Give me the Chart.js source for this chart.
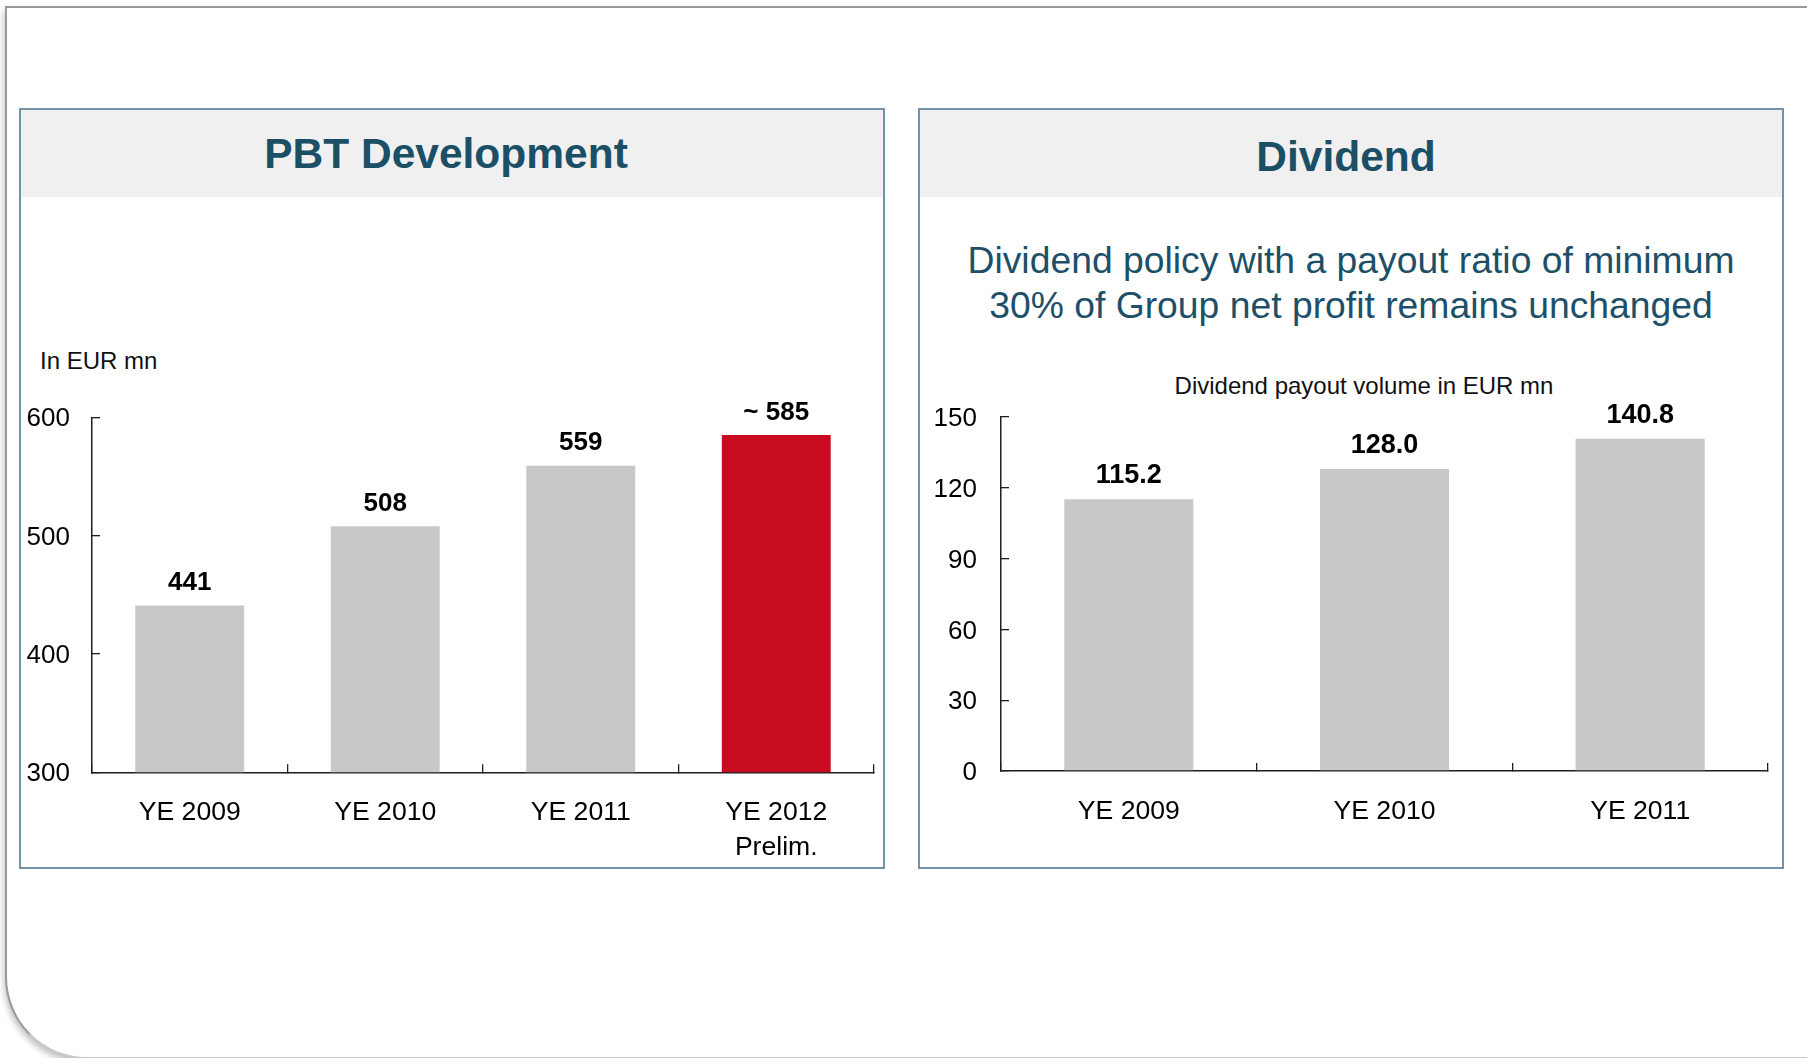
<!DOCTYPE html>
<html>
<head>
<meta charset="utf-8">
<script src="https://cdn.jsdelivr.net/npm/chart.js@4.4.1/dist/chart.umd.min.js"></script>
<style>
  html, body { margin:0; padding:0; width:1807px; height:1058px; overflow:hidden; background:#fff;
    font-family:"Liberation Sans", Arial, sans-serif; }
  .slide { position:absolute; left:5px; top:6px; width:1900px; height:1053px; box-sizing:border-box;
    border-left:2px solid #9a9a9a; border-top:2px solid #9a9a9a; border-bottom:2px solid #c8c8c8;
    border-bottom-left-radius:82px; box-shadow:-1px 4px 6px rgba(0,0,0,0.25); background:#fff; }
  .panel { position:absolute; top:108px; height:761px; box-sizing:border-box; border:2px solid #7592a6; background:#fff; }
  .head { position:absolute; left:0; top:0; right:0; height:87px; background:#f0f0f0; }
  .txt { position:absolute; white-space:nowrap; }
  canvas { position:absolute; left:0; top:0; pointer-events:none; }
</style>
</head>
<body>
<div class="slide"></div>
<div class="panel" style="left:19px;width:866px;"><div class="head"></div></div>
<div class="panel" style="left:918px;width:866px;"><div class="head"></div></div>

<div class="txt" style="left:146px;width:600px;top:132.5px;font-size:42.5px;line-height:42px;font-weight:bold;color:#1b4f66;text-align:center;">PBT Development</div>
<div class="txt" style="left:1046px;width:600px;top:135.5px;font-size:42.5px;line-height:42px;font-weight:bold;color:#1b4f66;text-align:center;">Dividend</div>
<div class="txt" style="left:951px;width:800px;top:238px;font-size:37.3px;line-height:45px;color:#1d5068;text-align:center;">Dividend policy with a payout ratio of minimum<br>30% of Group net profit remains unchanged</div>
<div class="txt" style="left:1114px;width:500px;top:374px;font-size:24px;line-height:24px;color:#111;text-align:center;">Dividend payout volume in EUR mn</div>
<div class="txt" style="left:40px;top:349px;font-size:24px;line-height:24px;color:#111;">In EUR mn</div>

<canvas id="pbt" width="1807" height="1058"></canvas>
<canvas id="div" width="1807" height="1058"></canvas>

<script>
// ---- data ----
const pbtCategories = ['YE 2009', 'YE 2010', 'YE 2011', ['YE 2012', 'Prelim.']];
const pbtValues = [441, 508, 559, 585];
const pbtValuePrefix = ['', '', '', '~ '];
const pbtTicks = [300, 400, 500, 600];
const pbtColors = ['#c8c8c8', '#c8c8c8', '#c8c8c8', '#c80b1e'];

const divCategories = ['YE 2009', 'YE 2010', 'YE 2011'];
const divValues = [115.2, 128.0, 140.8];
const divTicks = [0, 30, 60, 90, 120, 150];
const divColors = ['#c8c8c8', '#c8c8c8', '#c8c8c8'];

const FONT = '"Liberation Sans", Arial, sans-serif';
const AXIS = '#1e1e1e';

const valueLabels = {
  id: 'valueLabels',
  afterDatasetsDraw(chart, args, opts) {
    const ctx = chart.ctx;
    const meta = chart.getDatasetMeta(0);
    ctx.save();
    ctx.font = 'bold ' + opts.size + 'px ' + FONT;
    ctx.fillStyle = '#000';
    ctx.textAlign = 'center';
    ctx.textBaseline = 'alphabetic';
    meta.data.forEach((bar, i) => {
      ctx.fillText(opts.format(i), bar.x, bar.y - opts.gap);
    });
    ctx.restore();
  }
};

function makeChart(id, labels, values, colors, ticks, barPct, pad, yWidth, yPad, fmt, gap, lblSize) {
  return new Chart(document.getElementById(id), {
    type: 'bar',
    data: { labels: labels, datasets: [{ data: values, backgroundColor: colors, borderWidth: 0,
      barPercentage: barPct, categoryPercentage: 1.0 }] },
    options: {
      responsive: false, animation: false,
      layout: { padding: pad },
      plugins: { legend: { display: false }, tooltip: { enabled: false },
        valueLabels: { format: fmt, gap: gap, size: lblSize } },
      scales: {
        x: {
          grid: { drawOnChartArea: false, offset: true, tickLength: -8, color: AXIS, lineWidth: 1.3 },
          border: { display: true, color: AXIS, width: 1.5 },
          ticks: { color: '#000', padding: 31.5, font: { family: FONT, size: 26.6, lineHeight: 1.297 }, maxRotation: 0 },
          afterFit: s => { s.height = 90; }
        },
        y: {
          min: ticks[0], max: ticks[ticks.length - 1],
          grid: { drawOnChartArea: false, tickLength: -8, color: AXIS, lineWidth: 1.3 },
          border: { display: true, color: AXIS, width: 1.5 },
          ticks: { stepSize: ticks[1] - ticks[0], color: '#000', padding: yPad, labelOffset: 2,
            font: { family: FONT, size: 26 } },
          afterBuildTicks: s => { s.ticks = ticks.map(v => ({ value: v })); },
          afterFit: s => { s.width = yWidth; }
        }
      }
    },
    plugins: [valueLabels]
  });
}

makeChart('pbt', pbtCategories, pbtValues, pbtColors, pbtTicks, 0.557,
  { left: 20, top: 417.3, right: 1807 - 874, bottom: 1058 - 772.3 - 90 }, 72, 30,
  i => pbtValuePrefix[i] + pbtValues[i], 15.5, 26);

makeChart('div', divCategories, divValues, divColors, divTicks, 0.505,
  { left: 920, top: 417, right: 1807 - 1768, bottom: 1058 - 771 - 90 }, 81, 32,
  i => divValues[i].toFixed(1), 16, 27);
</script>
</body>
</html>
